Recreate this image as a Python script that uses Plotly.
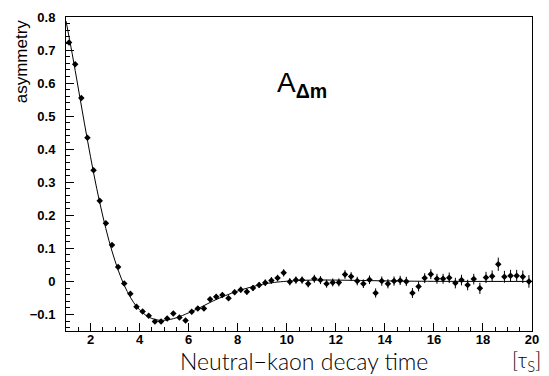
import plotly.graph_objects as go

# Measured asymmetry points (bin centres in units of tau_S)
t_points = [1.125, 1.375, 1.625, 1.875, 2.125, 2.375, 2.625, 2.875,
            3.125, 3.375, 3.625, 3.875, 4.125, 4.375, 4.625, 4.875,
            5.125, 5.375, 5.625, 5.875, 6.125, 6.375, 6.625, 6.875,
            7.125, 7.375, 7.625, 7.875, 8.125, 8.375, 8.625, 8.875,
            9.125, 9.375, 9.625, 9.875, 10.125, 10.375, 10.625, 10.875,
            11.125, 11.375, 11.625, 11.875, 12.125, 12.375, 12.625, 12.875,
            13.125, 13.375, 13.625, 13.875, 14.125, 14.375, 14.625, 14.875,
            15.125, 15.375, 15.625, 15.875, 16.125, 16.375, 16.625, 16.875,
            17.125, 17.375, 17.625, 17.875, 18.125, 18.375, 18.625, 18.875,
            19.125, 19.375, 19.625, 19.875]
asym_points = [0.723, 0.657, 0.555, 0.435, 0.336, 0.244, 0.176, 0.110,
               0.044, -0.006, -0.037, -0.077, -0.091, -0.104, -0.121, -0.121,
               -0.112, -0.097, -0.109, -0.118, -0.092, -0.082, -0.082, -0.054,
               -0.046, -0.041, -0.051, -0.033, -0.025, -0.031, -0.020, -0.011,
               -0.004, 0.003, 0.010, 0.026, -0.001, 0.004, 0.004, -0.007,
               0.008, 0.004, -0.007, -0.003, -0.003, 0.021, 0.015, 0.001,
               -0.007, 0.005, -0.035, 0.001, -0.007, 0.001, 0.003, 0.000,
               -0.035, -0.015, 0.010, 0.022, 0.008, 0.008, 0.011, -0.005,
               0.004, -0.011, 0.007, -0.021, 0.012, 0.016, 0.052, 0.014,
               0.017, 0.017, 0.014, 0.000]
asym_errors = [0.003, 0.003, 0.003, 0.003, 0.003, 0.003, 0.003, 0.003,
               0.004, 0.004, 0.004, 0.004, 0.005, 0.005, 0.005, 0.005,
               0.006, 0.006, 0.006, 0.006, 0.007, 0.007, 0.007, 0.007,
               0.008, 0.008, 0.008, 0.008, 0.009, 0.009, 0.009, 0.009,
               0.010, 0.010, 0.010, 0.011, 0.011, 0.011, 0.011, 0.011,
               0.012, 0.012, 0.012, 0.012, 0.012, 0.013, 0.013, 0.013,
               0.013, 0.013, 0.014, 0.014, 0.014, 0.014, 0.014, 0.014,
               0.015, 0.015, 0.015, 0.015, 0.015, 0.015, 0.016, 0.016,
               0.016, 0.016, 0.016, 0.017, 0.017, 0.017, 0.020, 0.018,
               0.018, 0.018, 0.019, 0.019]

# Fitted curve
t_fit = [1.0, 1.25, 1.5, 1.75, 2.0, 2.25, 2.5, 2.75, 3.0, 3.25, 3.5, 3.75,
         4.0, 4.25, 4.5, 4.75, 5.0, 5.25, 5.5, 5.75, 6.0, 6.5, 7.0, 7.5,
         8.0, 8.5, 9.0, 9.5, 10.0, 11.0, 12.0, 13.0, 14.0, 16.0, 18.0, 20.0]
asym_fit = [0.788, 0.690, 0.585, 0.479, 0.377, 0.282, 0.198, 0.124, 0.062,
            0.010, -0.031, -0.063, -0.086, -0.102, -0.112, -0.117, -0.1175,
            -0.115, -0.110, -0.103, -0.095, -0.078, -0.059, -0.043, -0.029,
            -0.018, -0.009, -0.003, 0.0005, 0.004, 0.004, 0.003, 0.0017,
            0.0002, 0.0, 0.0]

x_tick_vals = [2, 4, 6, 8, 10, 12, 14, 16, 18, 20]
x_tick_text = ["2", "4", "6", "8", "10", "12", "14", "16", "18", "20"]
y_tick_vals = [-0.1, 0, 0.1, 0.2, 0.3, 0.4, 0.5, 0.6, 0.7, 0.8]
y_tick_text = ["\u22120.1", "0", "0.1", "0.2", "0.3", "0.4", "0.5", "0.6", "0.7", "0.8"]

fig = go.Figure()
fig.add_trace(go.Scatter(
    x=t_fit, y=asym_fit, mode="lines",
    line=dict(color="black", width=1, shape="spline", smoothing=1.0),
    hoverinfo="skip", showlegend=False))
fig.add_trace(go.Scatter(
    x=t_points, y=asym_points, mode="markers",
    marker=dict(symbol="diamond", size=5, color="black"),
    error_y=dict(type="data", array=asym_errors, color="black",
                 thickness=1, width=0),
    showlegend=False))

tickfont = dict(family="Liberation Sans, Arial, sans-serif", size=13,
                color="black", weight="bold")

fig.update_xaxes(
    range=[1, 20], showgrid=False, zeroline=False,
    showline=True, linecolor="black", linewidth=1, mirror=True,
    ticks="inside", ticklen=8, tickwidth=1, tickcolor="black",
    tickvals=x_tick_vals, ticktext=x_tick_text, tickfont=tickfont,
    ticklabelstandoff=-4,
    minor=dict(dtick=0.5, tick0=0, ticks="inside", ticklen=4,
               tickcolor="black", tickwidth=1, showgrid=False),
)
fig.update_yaxes(
    range=[-0.15, 0.8], showgrid=False, zeroline=False,
    showline=True, linecolor="black", linewidth=1, mirror=True,
    ticks="inside", ticklen=8, tickwidth=1, tickcolor="black",
    tickvals=y_tick_vals, ticktext=y_tick_text, tickfont=tickfont,
    ticklabelstandoff=7,
    minor=dict(dtick=0.02, tick0=0, ticks="inside", ticklen=4,
               tickcolor="black", tickwidth=1, showgrid=False),
)

fig.add_annotation(
    text="Neutral\u2212kaon decay time", xref="paper", yref="paper",
    x=0.51, y=-0.097, xanchor="center", yanchor="middle", showarrow=False,
    font=dict(family="Lato, Open Sans, sans-serif", size=23, color="black",
              weight=300))
fig.add_annotation(
    text="[\u03c4<sub>S</sub>]", xref="paper", yref="paper",
    x=0.989, y=-0.097, xanchor="center", yanchor="middle", showarrow=False,
    font=dict(family="Lato, Open Sans, sans-serif", size=21, color="black",
              weight=300))
fig.add_annotation(
    text="asymmetry", xref="paper", yref="paper",
    x=-0.096, y=1.0, xanchor="center", yanchor="top", textangle=-90,
    showarrow=False,
    font=dict(family="Liberation Sans, Arial, sans-serif", size=17,
              color="black"))
fig.add_annotation(
    text="A<sub><b>\u0394m</b></sub>", xref="paper", yref="paper",
    x=0.4475, y=0.785, xanchor="left", yanchor="middle", showarrow=False,
    font=dict(family="Liberation Sans, Arial, sans-serif", size=28,
              color="black"))

fig.update_layout(
    width=549, height=376,
    margin=dict(l=66, r=16, t=10, b=45),
    plot_bgcolor="white", paper_bgcolor="white",
)

fig.write_html(
    "out.html",
    config={"displayModeBar": False},
    post_script="document.body.style.margin='0';"
                "document.body.style.overflow='hidden';")
